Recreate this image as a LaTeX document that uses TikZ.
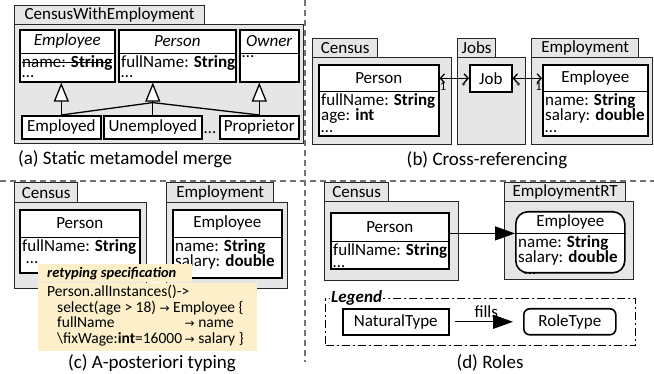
\documentclass[tikz,border=0pt]{standalone}
\usepackage{fontspec}
\setmainfont{Carlito}
\newfontfamily\arrowfont{DejaVu Sans}
\usetikzlibrary{calc, positioning, arrows.meta}
\definecolor{pkggray}{RGB}{230,230,230}
\definecolor{notecol}{RGB}{252,239,201}
\newcommand{\umlfont}{\fontsize{17}{15}\selectfont}
\newcommand{\capfont}{\fontsize{19}{20}\selectfont}
\newcommand{\multfont}{\fontsize{12.5}{12}\selectfont}
\newcommand{\notefont}{\fontsize{15.5}{15}\selectfont}
\newcommand{\toarrow}{{\arrowfont\fontsize{12}{15}\selectfont →}}
\newcommand{\crossout}[1]{\setbox0\hbox{#1}\rlap{\rule[0.27em]{\wd0}{1.1pt}}\box0}

\begin{document}
\begin{tikzpicture}[x=1pt, y=-1pt, font=\umlfont,
  pkg/.style={draw=black!85, fill=pkggray, line width=1.3pt, inner sep=0pt, anchor=north west},
  cls/.style={draw, fill=white, line width=1.6pt, inner sep=0pt, anchor=north west},
  ctitle/.style={inner sep=0pt, anchor=north},
  cattr/.style={inner xsep=3pt, inner ysep=2pt, anchor=north west, align=left},
  divider/.style={line width=1.6pt},
  gen/.style={line width=1.3pt, -{Triangle[fill=white, length=19pt, width=15pt]}},
  assoc/.style={line width=1.3pt},
  xref/.style={line width=1.3pt, {Straight Barb[length=4pt, width=9pt]}-{Straight Barb[length=4pt, width=9pt]}},
  fills/.style={line width=1.3pt, -{Triangle[length=20pt, width=14pt]}},
  mult/.style={font=\multfont, inner sep=1pt},
  caption/.style={font=\capfont, inner sep=0pt},
  sep/.style={draw=black!55, line width=1.1pt, dash pattern=on 6pt off 4pt},
  legendbox/.style={draw, line width=1.4pt, dash pattern=on 8pt off 3pt on 2pt off 3pt, inner sep=0pt, anchor=north west},
  note/.style={fill=notecol, inner sep=0pt, anchor=north west}]

\useasboundingbox (0,0) rectangle (654,374);

% Separators
\draw[sep] (0,181) -- (654,181);
\draw[sep] (305,0) -- (305,362);

% (a) Static metamodel merge
\node[pkg, minimum width=190pt, minimum height=19pt] (cwetab) at (14,5) {CensusWithEmployment};
\node[pkg, minimum width=289pt, minimum height=119pt] (cwe) at (14,24) {};

\node[cls, minimum width=95pt, minimum height=52pt] (employeeA) at (19,29) {};
\node[ctitle, minimum height=24pt] (employeeAt) at (employeeA.north) {\textit{Employee}};
\draw[divider] (employeeA.west |- employeeAt.south) -- (employeeA.east |- employeeAt.south);
\node[cattr] (employeeAa) at (employeeA.west |- employeeAt.south) {\crossout{name: \textbf{String}}\\[-5pt]…};

\node[cls, minimum width=117pt, minimum height=52pt] (personA) at (118,29) {};
\node[ctitle, minimum height=24pt] (personAt) at (personA.north) {\textit{Person}};
\draw[divider] (personA.west |- personAt.south) -- (personA.east |- personAt.south);
\node[cattr] (personAa) at (personA.west |- personAt.south) {fullName: \textbf{String}\\[-5pt]…};

\node[cls, minimum width=59pt, minimum height=52pt] (ownerA) at (239,29) {};
\node[ctitle, minimum height=24pt] (ownerAt) at (ownerA.north) {\textit{Owner}};
\draw[divider] (ownerA.west |- ownerAt.south) -- (ownerA.east |- ownerAt.south);
\node[cattr] (ownerAa) at (ownerA.west |- ownerAt.south) {…};

\node[cls, minimum width=79pt, minimum height=23pt] (employed) at (21,115) {Employed};
\node[cls, minimum width=98pt, minimum height=23pt] (unemployed) at (103,115) {Unemployed};
\node[cls, minimum width=79pt, minimum height=23pt] (proprietor) at (219,115) {Proprietor};
\node (moreA) at (210,133) {…};

% generalisations
\coordinate (genjoin) at ($(unemployed.north |- personA.south)+(0,20)$);
\draw[gen] (employed.north) -- (employed.north |- employeeA.south);
\draw[gen] (unemployed.north) -- (unemployed.north |- personA.south);
\draw[gen] (proprietor.north) -- (proprietor.north |- ownerA.south);
\draw[assoc] (employed.north) -- (genjoin) -- (proprietor.north);

\node[caption] (capA) at (125,159) {(a) Static metamodel merge};

% (b) Cross-referencing
\node[pkg, minimum width=65pt, minimum height=19pt] (censusBtab) at (312,38) {Census};
\node[pkg, minimum width=139pt, minimum height=87pt] (censusB) at (312,57) {};
\node[pkg, minimum width=38pt, minimum height=19pt] (jobsBtab) at (457,38) {Jobs};
\node[pkg, minimum width=68pt, minimum height=87pt] (jobsB) at (457,57) {};
\node[pkg, minimum width=107pt, minimum height=19pt] (employmentBtab) at (531,38) {Employment};
\node[pkg, minimum width=121pt, minimum height=87pt] (employmentB) at (531,57) {};

\node[cls, minimum width=120pt, minimum height=71pt] (personB) at (318,64) {};
\node[ctitle, minimum height=27pt] (personBt) at (personB.north) {Person};
\draw[divider] (personB.west |- personBt.south) -- (personB.east |- personBt.south);
\node[cattr] (personBa) at (personB.west |- personBt.south) {fullName: \textbf{String}\\age: \textbf{int}\\[-3pt]…};

\node[cls, minimum width=42pt, minimum height=27pt] (job) at (469,64) {Job};

\node[cls, minimum width=105pt, minimum height=71pt] (employeeB) at (542,64) {};
\node[ctitle, minimum height=27pt] (employeeBt) at (employeeB.north) {Employee};
\draw[divider] (employeeB.west |- employeeBt.south) -- (employeeB.east |- employeeBt.south);
\node[cattr] (employeeBa) at (employeeB.west |- employeeBt.south) {name: \textbf{String}\\salary: \textbf{double}\\[-3pt]…};

\draw[xref] (personB.east |- job.west) -- node[mult, pos=0.12, below=3pt] (multPerson) {1} node[mult, pos=0.82, below=3pt] (multJobL) {*} (job.west);
\draw[xref] (job.east) -- node[mult, pos=0.2, below=3pt] (multJobR) {*} node[mult, pos=0.88, below=3pt] (multEmployee) {1} (employeeB.west |- job.east);

\node[caption] (capB) at (487,160) {(b) Cross-referencing};

% (c) A-posteriori typing
\node[pkg, minimum width=63pt, minimum height=20pt] (censusCtab) at (14,182) {Census};
\node[pkg, minimum width=132pt, minimum height=86pt] (censusC) at (14,202) {};
\node[pkg, minimum width=107pt, minimum height=20pt] (employmentCtab) at (166,182) {Employment};
\node[pkg, minimum width=121pt, minimum height=86pt] (employmentC) at (166,202) {};

\node[cls, minimum width=120pt, minimum height=63pt] (personC) at (19,209) {};
\node[ctitle, minimum height=28pt] (personCt) at (personC.north) {Person};
\draw[divider] (personC.west |- personCt.south) -- (personC.east |- personCt.south);
\node[cattr] (personCa) at (personC.west |- personCt.south) {fullName: \textbf{String}\\[-3pt]\hspace{4pt}…};

\node[cls, minimum width=109pt, minimum height=68pt] (employeeC) at (172,209) {};
\node[ctitle, minimum height=28pt] (employeeCt) at (employeeC.north) {Employee};
\draw[divider] (employeeC.west |- employeeCt.south) -- (employeeC.east |- employeeCt.south);
\node[cattr] (employeeCa) at (employeeC.west |- employeeCt.south) {name: \textbf{String}\\salary: \textbf{double}};

% retyping note
\node[note, minimum width=154pt, minimum height=18pt] (retypeHead) at (38,264) {};
\node[note, minimum width=219pt, minimum height=68pt] (retypeBody) at (retypeHead.south west) {};
\node[font=\fontsize{14.5}{15}\selectfont\bfseries\itshape, inner sep=0pt, anchor=west] (retypeTitle) at ([xshift=9pt]retypeHead.west) {retyping specification};
\node[font=\notefont, inner sep=0pt, anchor=west, align=left] (retypeText) at ([xshift=9pt]retypeBody.west) {%
  \begin{tabular}{@{}l@{\,}l@{}}
  \multicolumn{2}{@{}l@{}}{Person.allInstances()->}\\
  \multicolumn{2}{@{}l@{}}{\hspace{10pt}select(age > 18) \toarrow{} Employee \{}\\
  \hspace{10pt}fullName & \toarrow{} name\\
  \hspace{10pt}\textbackslash fixWage:\textbf{int}=16000 & \toarrow{} salary \}
  \end{tabular}};

\node[caption] (capC) at (152,363) {(c) A-posteriori typing};

% (d) Roles
\node[pkg, minimum width=64pt, minimum height=19pt] (censusDtab) at (324,182) {Census};
\node[pkg, minimum width=134pt, minimum height=79pt] (censusD) at (324,201) {};
\node[pkg, minimum width=121pt, minimum height=19pt] (employmentRTtab) at (504,182) {EmploymentRT};
\node[pkg, minimum width=129pt, minimum height=78pt] (employmentRT) at (504,201) {};

\node[cls, minimum width=118pt, minimum height=56pt] (personD) at (330,212) {};
\node[ctitle, minimum height=29pt] (personDt) at (personD.north) {Person};
\draw[divider] (personD.west |- personDt.south) -- (personD.east |- personDt.south);
\node[cattr] (personDa) at (personD.west |- personDt.south) {fullName: \textbf{String}\\[-3pt]…};

\node[cls, rounded corners=12pt, minimum width=109pt, minimum height=61pt] (employeeD) at (515,211) {};
\node[ctitle, minimum height=22pt] (employeeDt) at (employeeD.north) {Employee};
\draw[divider] (employeeD.west |- employeeDt.south) -- (employeeD.east |- employeeDt.south);
\node[cattr] (employeeDa) at (employeeD.west |- employeeDt.south) {name: \textbf{String}\\salary: \textbf{double}\\[-3pt]\hspace{6pt}…};

\draw[fills] (personD.east |- employeeDt.south) -- (employeeD.west |- employeeDt.south);

% legend
\node[legendbox, minimum width=310pt, minimum height=47pt] (legend) at (325,298) {};
\node[font=\umlfont\bfseries\itshape, fill=white, inner sep=1pt, anchor=west] (legendt) at ([xshift=5pt]legend.north west) {Legend};
\node[cls, minimum width=106pt, minimum height=26pt] (naturaltype) at (342,308) {NaturalType};
\node[cls, rounded corners=6pt, minimum width=92pt, minimum height=26pt] (roletype) at (523,308) {RoleType};
\draw[fills, shorten <=5pt, shorten >=10pt] (naturaltype) -- node[above, inner sep=4pt] (fillsl) {fills} (roletype);

\node[caption] (capD) at (490,363) {(d) Roles};
\end{tikzpicture}
\end{document}
